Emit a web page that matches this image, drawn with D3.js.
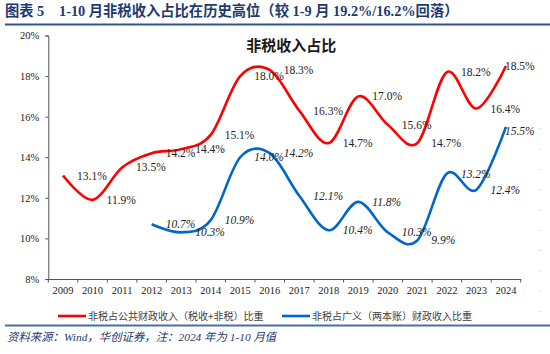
<!DOCTYPE html>
<html>
<head>
<meta charset="utf-8">
<script src="https://cdn.jsdelivr.net/npm/d3@7"></script>
<style>
  body { margin: 0; background: #fff; }
  svg { display: block; }
</style>
</head>
<body>
<div id="chart"></div>
<script>
// data
const years = ['2009', '2010', '2011', '2012', '2013', '2014', '2015', '2016',
  '2017', '2018', '2019', '2020', '2021', '2022', '2023', '2024'];
const publicShare = [13.1, 11.9, 13.5, 14.2, 14.4, 15.1, 18.0, 18.3,
  16.3, 14.7, 17.0, 15.6, 14.7, 18.2, 16.4, 18.5];
const broadShare = [null, null, null, 10.7, 10.3, 10.9, 14.0, 14.2,
  12.1, 10.4, 11.8, 10.3, 9.9, 13.2, 12.4, 15.5];
const yTicks = [8, 10, 12, 14, 16, 18, 20];

const seriesNames = ['非税占公共财政收入（税收+非税）比重', '非税占广义（两本账）财政收入比重'];
const seriesColors = ['#ff0000', '#0066cc'];

const width = 550, height = 354;
const margin = { top: 35.5, right: 29.3, bottom: 75, left: 48.3 };
const innerW = width - margin.left - margin.right;
const innerH = height - margin.top - margin.bottom;

const svg = d3.select('#chart').append('svg')
  .attr('width', width)
  .attr('height', height);

// header
const header = svg.append('text')
  .attr('y', 16)
  .attr('fill', '#1f3a70')
  .attr('font-family', '"Liberation Serif", "Noto Sans CJK SC", serif')
  .attr('font-weight', 'bold')
  .attr('font-size', 14.3);
header.append('tspan').attr('x', 5).text('图表');
header.append('tspan').attr('x', 37).text('5');
header.append('tspan').attr('x', 59)
  .text('1-10 月非税收入占比在历史高位（较 1-9 月 19.2%/16.2%回落）');

svg.append('line')
  .attr('x1', 5).attr('x2', 550).attr('y1', 24.5).attr('y2', 24.5)
  .attr('stroke', '#2f5597').attr('stroke-width', 2);

const g = svg.append('g')
  .attr('transform', `translate(${margin.left},${margin.top})`);

const x = d3.scaleBand().domain(years).range([0, innerW]);
const y = d3.scaleLinear().domain([8, 20]).range([innerH, 0]);
const cx = d => x(d) + x.bandwidth() / 2;

// faint marks on the right edge
g.selectAll('.ghost')
  .data(d3.range(15.4, 5.9, -1))
  .join('line')
  .attr('class', 'ghost')
  .attr('x1', innerW + 18).attr('x2', innerW + 21)
  .attr('y1', d => y(d)).attr('y2', d => y(d))
  .attr('stroke', '#e2e2e2');

// y axis
const yAxis = d3.axisLeft(y)
  .tickValues(yTicks)
  .tickSize(3)
  .tickPadding(6)
  .tickFormat(d => d + '%');
const yAxisG = g.append('g').call(yAxis);

// x axis: labels at centres, ticks at category boundaries
const xAxis = d3.axisBottom(x).tickSize(0).tickPadding(8);
const xAxisG = g.append('g')
  .attr('transform', `translate(0,${innerH})`)
  .call(xAxis);
xAxisG.selectAll('.xb')
  .data(years.map(d => x(d)).concat([innerW]))
  .join('line')
  .attr('class', 'xb')
  .attr('x1', d => d).attr('x2', d => d)
  .attr('y1', 0).attr('y2', 3.5)
  .attr('stroke', '#555');

[yAxisG, xAxisG].forEach(a => {
  a.select('.domain').attr('stroke', '#555').attr('stroke-width', 1);
  a.selectAll('.tick line').attr('stroke', '#555');
  a.selectAll('text')
    .attr('fill', '#222')
    .attr('font-family', '"Liberation Serif", serif')
    .attr('font-size', 10.5);
});

// chart title
g.append('text')
  .attr('x', 243).attr('y', 15.5)
  .attr('text-anchor', 'middle')
  .attr('fill', '#1a1a1a')
  .attr('font-family', '"Noto Sans CJK SC", sans-serif')
  .attr('font-weight', 'bold')
  .attr('font-size', 15)
  .text('非税收入占比');

// lines
const line = d3.line()
  .defined(d => d.v != null)
  .x(d => cx(d.year))
  .y(d => y(d.v))
  .curve(d3.curveCatmullRom.alpha(0));

[publicShare, broadShare].forEach((vals, i) => {
  const pts = years.map((year, j) => ({ year, v: vals[j] })).filter(d => d.v != null);
  g.append('path')
    .datum(pts)
    .attr('fill', 'none')
    .attr('stroke', seriesColors[i])
    .attr('stroke-width', 2.6)
    .attr('d', line);

  g.selectAll('.lbl' + i)
    .data(pts)
    .join('text')
    .attr('class', 'lbl' + i)
    .attr('x', d => d.year === '2024' ? cx(d.year) - 1 : cx(d.year) + 14)
    .attr('y', d => y(d.v) + (d.year === '2024' && i === 1 ? 4.5 : 0))
    .attr('dy', '0.35em')
    .attr('fill', '#222')
    .attr('font-family', '"Liberation Serif", serif')
    .attr('font-style', i === 1 ? 'italic' : 'normal')
    .attr('font-size', 11.5)
    .text(d => d.v.toFixed(1) + '%');
});

// legend
const legend = svg.append('g').attr('transform', 'translate(0,316)');
const legendX = [58, 282];
seriesNames.forEach((name, i) => {
  legend.append('line')
    .attr('x1', legendX[i]).attr('x2', legendX[i] + 28)
    .attr('y1', 0).attr('y2', 0)
    .attr('stroke', seriesColors[i]).attr('stroke-width', 2.6);
  legend.append('text')
    .attr('x', legendX[i] + 30).attr('y', 0)
    .attr('dy', '0.35em')
    .attr('fill', '#404040')
    .attr('font-family', '"Noto Sans CJK SC", sans-serif')
    .attr('font-size', 10)
    .text(name);
});

svg.append('line')
  .attr('x1', 5).attr('x2', 550).attr('y1', 325.5).attr('y2', 325.5)
  .attr('stroke', '#4a6fa5').attr('stroke-width', 2);

// source note
svg.append('text')
  .attr('x', 7).attr('y', 341)
  .attr('fill', '#1f3a70')
  .attr('font-family', '"Liberation Serif", "Noto Sans CJK SC", serif')
  .attr('font-style', 'italic')
  .attr('font-size', 11.4)
  .text('资料来源：Wind，华创证券，注：2024 年为 1-10 月值');
</script>
</body>
</html>
